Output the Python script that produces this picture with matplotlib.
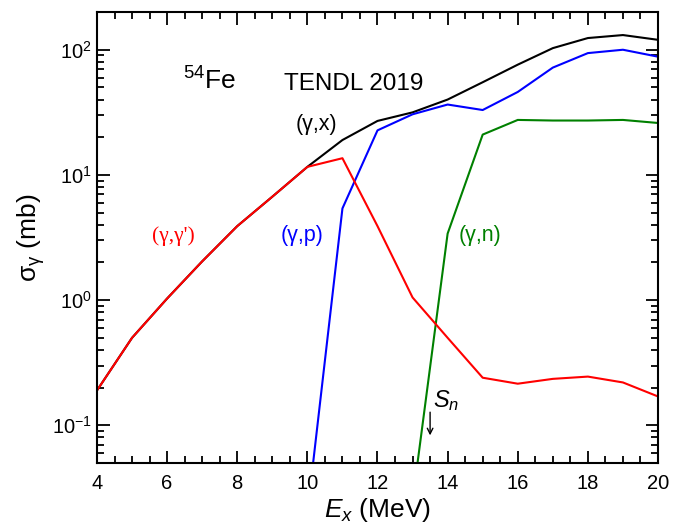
import numpy as np
import matplotlib
matplotlib.use("Agg")
import matplotlib.pyplot as plt
from matplotlib.ticker import MultipleLocator, LogLocator, NullFormatter

plt.rcParams['font.family'] = ['Liberation Sans', 'DejaVu Sans']
plt.rcParams['mathtext.fontset'] = 'custom'
plt.rcParams['mathtext.rm'] = 'Liberation Sans'
plt.rcParams['mathtext.it'] = 'Liberation Sans:italic'

energy = [4, 5, 6, 7, 8, 9, 10, 11, 12, 13, 14, 15, 16, 17, 18, 19, 20]
sigma_x = [0.19, 0.50, 1.03, 2.04, 3.9, 6.7, 11.6, 19, 27, 31.6, 40, 55, 76, 103, 124, 131, 120]
sigma_gg = [0.19, 0.50, 1.03, 2.04, 3.9, 6.7, 11.6, 13.6, 3.9, 1.05, 0.5, 0.24, 0.215, 0.235, 0.245, 0.22, 0.17]
energy_p = [10, 11, 12, 13, 14, 15, 16, 17, 18, 19, 20]
sigma_p = [0.02, 5.4, 22.7, 30.5, 36.5, 33, 46, 72, 94, 100, 88]
energy_n = [13, 14, 15, 16, 17, 18, 19, 20]
sigma_n = [0.025, 3.4, 21, 27.5, 27.2, 27.2, 27.5, 26]
S_n = 13.5

fig = plt.figure(figsize=(6.84, 5.24), dpi=100)
ax = fig.add_axes([0.1418, 0.1164, 0.8202, 0.8606])

ax.plot(energy, sigma_x, color='black', lw=1.5)
ax.plot(energy_p, sigma_p, color='blue', lw=1.5)
ax.plot(energy_n, sigma_n, color='green', lw=1.5)
ax.plot(energy, sigma_gg, color='red', lw=1.5)

ax.set_yscale('log')
ax.set_xlim(4, 20)
ax.set_ylim(0.05, 200)

ax.xaxis.set_major_locator(MultipleLocator(2))
ax.xaxis.set_minor_locator(MultipleLocator(0.5))
ax.yaxis.set_major_locator(LogLocator(base=10))
ax.yaxis.set_minor_locator(LogLocator(base=10, subs=np.arange(2, 10)))
ax.yaxis.set_minor_formatter(NullFormatter())
ax.tick_params(which='both', direction='in', top=True, right=True, width=1.3, labelsize=14.5)
ax.tick_params(which='major', length=9)
ax.tick_params(which='minor', length=5)
ax.tick_params(axis='x', pad=8)
for s in ax.spines.values():
    s.set_linewidth(1.5)

ax.set_xlabel(r'$E_x$ (MeV)', fontsize=19, labelpad=2)
ax.set_ylabel(r'σ$_{\mathrm{γ}}$ (mb)', fontsize=19, labelpad=4)

ax.text(6.46, 48, r'$^{54}$Fe', fontsize=19)
ax.text(9.34, 48, 'TENDL 2019', fontsize=17.5)
ax.text(9.66, 23, '(γ,x)', fontsize=15.5, color='black')
ax.text(5.57, 2.94, "(γ,γ')", fontsize=15.5, color='red', family=['Liberation Serif', 'DejaVu Serif'])
ax.text(9.23, 2.94, '(γ,p)', fontsize=15.5, color='blue')
ax.text(14.3, 2.94, '(γ,n)', fontsize=15.5, color='green')

ax.annotate('', xy=(S_n, 0.079), xytext=(S_n, 0.134),
            arrowprops=dict(arrowstyle='->', color='black', lw=1))
ax.text(S_n + 0.07, 0.139, r'$S_n$', fontsize=17)

fig.savefig('out.png', dpi=100)
